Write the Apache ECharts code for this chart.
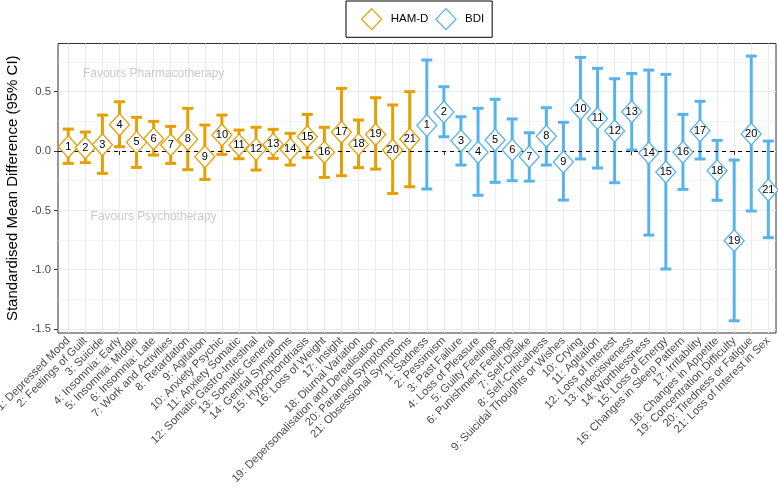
<!DOCTYPE html>
<html>
<head>
<meta charset="utf-8">
<script src="https://cdn.jsdelivr.net/npm/echarts@6/dist/echarts.min.js"></script>
<style>html,body{margin:0;padding:0;background:#fff}#c{width:778px;height:487px}</style>
</head>
<body>
<div id="c"></div>
<script>
const hamdItems = ['Depressed Mood','Feelings of Guilt','Suicide','Insomnia: Early','Insomnia: Middle','Insomnia: Late','Work and Activities','Retardation','Agitation','Anxiety Psychic','Anxiety Somatic','Somatic Gastro-Intestinal','Somatic General','Genital Symptoms','Hypochondriasis','Loss of Weight','Insight','Diurnal Variation','Depersonalisation and Derealisation','Paranoid Symptoms','Obsessional Symptoms'];
const hamdEst = [0.036,0.028,0.053,0.222,0.073,0.104,0.05,0.099,-0.048,0.135,0.05,0.014,0.056,0.014,0.12,-0.011,0.158,0.056,0.14,0.006,0.099];
const hamdLo  = [-0.104,-0.098,-0.188,0.036,-0.138,-0.034,-0.104,-0.157,-0.239,-0.028,-0.065,-0.16,-0.062,-0.118,-0.056,-0.222,-0.208,-0.14,-0.152,-0.357,-0.301];
const hamdHi  = [0.185,0.16,0.303,0.415,0.284,0.25,0.208,0.36,0.219,0.303,0.177,0.2,0.183,0.149,0.309,0.2,0.528,0.261,0.449,0.388,0.5];

const bdiItems = ['Sadness','Pessimism','Past Failure','Loss of Pleasure','Guilty Feelings','Punishment Feelings','Self-Dislike','Self-Criticalness','Suicidal Thoughts or Wishes','Crying','Agitation','Loss of Interest','Indecisiveness','Worthlessness','Loss of Energy','Changes in Sleep Pattern','Irritability','Changes in Appetite','Concentration Difficulty','Tiredness or Fatigue','Loss of Interest in Sex'];
const bdiEst = [0.216,0.329,0.087,-0.011,0.093,0.008,-0.048,0.124,-0.093,0.356,0.275,0.168,0.331,-0.017,-0.177,-0.011,0.171,-0.166,-0.756,0.143,-0.329];
const bdiLo  = [-0.32,0.12,-0.118,-0.373,-0.264,-0.25,-0.253,-0.118,-0.413,-0.067,-0.143,-0.267,0.008,-0.708,-0.994,-0.323,-0.067,-0.415,-1.43,-0.505,-0.73];
const bdiHi  = [0.767,0.542,0.289,0.36,0.436,0.27,0.154,0.365,0.242,0.789,0.697,0.609,0.654,0.682,0.646,0.309,0.419,0.09,-0.076,0.80,0.084];

const yTicks = [-1.5,-1.0,-0.5,0.0,0.5];
const yMinorTicks = [-1.25,-0.75,-0.25,0.25,0.75];
const notes = [{text:'Favours Pharmacotherapy', x:6, y:0.65},{text:'Favours Psychotherapy', x:6, y:-0.55}];

const ORANGE = '#E69F00', BLUE = '#56B4E9';
const FONT = '"Liberation Sans", Arial, sans-serif';

const labels = hamdItems.map((s,i)=> (i+1)+': '+s).concat(bdiItems.map((s,i)=> (i+1)+': '+s));
const positions = labels.map((_,i)=> i+1);
const nH = hamdItems.length;

function errData(lo, hi, offset){ return lo.map((v,i)=>[i+1+offset, v, hi[i]]); }
function ptData(est, offset){ return est.map((v,i)=>({value:[i+1+offset, v], num: i+1})); }

function errRender(color){
  return function(params, api){
    const x = api.value(0), lo = api.value(1), hi = api.value(2);
    const a = api.coord([x, hi]), b = api.coord([x, lo]);
    const hw = 5.5;
    const st = {stroke: color, lineWidth: 3, lineCap: 'butt'};
    return {type:'group', children:[
      {type:'line', shape:{x1:a[0], y1:a[1], x2:b[0], y2:b[1]}, style:st},
      {type:'line', shape:{x1:a[0]-hw, y1:a[1], x2:a[0]+hw, y2:a[1]}, style:st},
      {type:'line', shape:{x1:b[0]-hw, y1:b[1], x2:b[0]+hw, y2:b[1]}, style:st}
    ]};
  };
}

const legendIcon = 'path://M10,0 L20,10.5 L10,21 L0,10.5 Z M24,10.5 L24,10.5';

const chart = echarts.init(document.getElementById('c'), null, {renderer:'canvas'});
chart.setOption({
  animation: false,
  textStyle: {fontFamily: FONT},
  legend: {
    left: 346, top: 1,
    padding: [7, 8, 7, 15],
    borderColor: '#000', borderWidth: 1,
    itemWidth: 24, itemHeight: 21, itemGap: 7,
    symbolKeepAspect: true,
    textStyle: {fontSize: 11.5, color: '#000', fontFamily: FONT},
    data: [
      {name:'HAM-D', icon: legendIcon, itemStyle:{color:'#fff', borderColor: ORANGE, borderWidth: 1.3}},
      {name:'BDI', icon: legendIcon, itemStyle:{color:'#fff', borderColor: BLUE, borderWidth: 1.3}}
    ]
  },
  grid: {left: 58, right: 2, top: 43.5, bottom: 154, show: true, borderColor: '#333', borderWidth: 1, backgroundColor: 'transparent', outerBoundsMode: 'none', containLabel: false},
  xAxis: {
    type: 'value', min: 0.4, max: 42.45,
    axisLine: {show: false},
    axisTick: {show: true, length: 4, lineStyle: {color: '#333'}, customValues: positions},
    axisLabel: {customValues: positions, rotate: 45, fontSize: 11.3, color: '#4D4D4D', margin: 6, fontFamily: FONT,
      formatter: v => labels[Math.round(v)-1] || ''},
    splitLine: {show: true, lineStyle: {color: '#EBEBEB', width: 1}}
  },
  yAxis: [{
    type: 'value', min: -1.533, max: 0.906,
    name: 'Standardised Mean Difference (95% CI)', nameLocation: 'middle', nameGap: 33,
    nameTextStyle: {fontSize: 15, color: '#000', fontFamily: FONT},
    axisLine: {show: false},
    axisTick: {show: true, length: 4, lineStyle: {color: '#333'}, customValues: yTicks},
    axisLabel: {customValues: yTicks, fontSize: 11.3, color: '#4D4D4D', margin: 7, fontFamily: FONT,
      formatter: v => v.toFixed(1)},
    splitLine: {show: true, lineStyle: {color: '#EBEBEB', width: 1}}
  },{
    type: 'value', min: -1.533, max: 0.906, position: 'left',
    axisLine: {show: false}, axisLabel: {show: false},
    axisTick: {show: false, customValues: yMinorTicks},
    splitLine: {show: true, lineStyle: {color: '#EBEBEB', width: 0.5}}
  }],
  series: [
    {type:'custom', name:'hamdErr', renderItem: errRender(ORANGE), data: errData(hamdLo, hamdHi, 0), z: 3, silent: true,
     markLine: {silent: true, symbol: 'none', label:{show:false}, lineStyle:{color:'#000', type:[4,4], width:1}, data:[{yAxis:0}]}},
    {type:'custom', name:'bdiErr', renderItem: errRender(BLUE), data: errData(bdiLo, bdiHi, nH), z: 3, silent: true},
    {type:'scatter', name:'HAM-D', data: ptData(hamdEst, 0), symbol:'diamond', symbolSize:[20,22], z: 5,
     itemStyle:{color:'#fff', borderColor: ORANGE, borderWidth: 1.3, opacity: 1},
     label:{show:true, position:'inside', color:'#000', fontSize: 11, fontFamily: FONT, formatter: p => p.data.num}},
    {type:'scatter', name:'BDI', data: ptData(bdiEst, nH), symbol:'diamond', symbolSize:[20,22], z: 5,
     itemStyle:{color:'#fff', borderColor: BLUE, borderWidth: 1.3, opacity: 1},
     label:{show:true, position:'inside', color:'#000', fontSize: 11, fontFamily: FONT, formatter: p => p.data.num}},
    {type:'scatter', name:'notes', data: notes.map(n=>({value:[n.x, n.y], text:n.text})), symbolSize: 0, z: 2, silent: true,
     label:{show:true, position:'inside', color:'#BDBDBD', fontSize: 12, fontFamily: FONT, formatter: p => p.data.text}}
  ]
});
</script>
</body>
</html>
